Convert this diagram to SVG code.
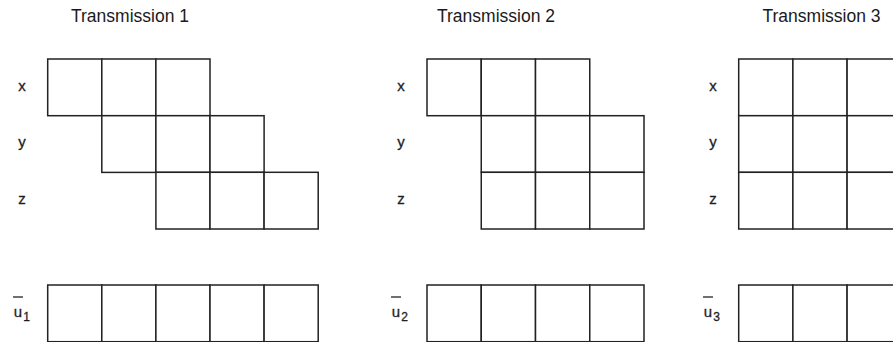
<svg xmlns="http://www.w3.org/2000/svg" width="893" height="342" viewBox="0 0 893 342">
  <style>
    .cell { fill: #ffffff; stroke: #222222; stroke-width: 1.5; }
    .title { font-family: "Liberation Sans", Arial, sans-serif; font-size: 17.5px; fill: #1a1a1a; text-anchor: middle; }
    .lbl { font-family: "Liberation Sans", Arial, sans-serif; font-size: 15px; fill: #1e1e1e; text-anchor: middle; stroke: #1e1e1e; stroke-width: 0.3; }
    .sub { font-size: 12px; }
    .bar { stroke: #222222; stroke-width: 1.3; }
  </style>
  <defs>
    <rect id="c1" class="cell" width="54.1" height="56.7"/>
    <rect id="c2" class="cell" width="54.25" height="56.7"/>
    <rect id="c3" class="cell" width="54.2" height="56.7"/>
  </defs>
  <rect width="893" height="342" fill="#ffffff"/>

  <!-- Transmission 1 -->
  <g id="transmission-1">
    <text class="title" x="130" y="22">Transmission 1</text>
    <g id="t1-labels">
      <text class="lbl" x="22" y="91">x</text>
      <text class="lbl" x="22" y="147">y</text>
      <text class="lbl" x="22" y="204">z</text>
      <line class="bar" x1="13" y1="297" x2="23" y2="297"/>
      <text class="lbl" x="18" y="317">u</text>
      <text class="lbl sub" x="26.5" y="321">1</text>
    </g>
    <g id="t1-x">
      <use href="#c1" x="47.7" y="59"/>
      <use href="#c1" x="101.8" y="59"/>
      <use href="#c1" x="155.9" y="59"/>
    </g>
    <g id="t1-y">
      <use href="#c1" x="101.8" y="115.7"/>
      <use href="#c1" x="155.9" y="115.7"/>
      <use href="#c1" x="210" y="115.7"/>
    </g>
    <g id="t1-z">
      <use href="#c1" x="155.9" y="172.3"/>
      <use href="#c1" x="210" y="172.3"/>
      <use href="#c1" x="264.1" y="172.3"/>
    </g>
    <g id="t1-u">
      <use href="#c1" x="47.7" y="285"/>
      <use href="#c1" x="101.8" y="285"/>
      <use href="#c1" x="155.9" y="285"/>
      <use href="#c1" x="210" y="285"/>
      <use href="#c1" x="264.1" y="285"/>
    </g>
  </g>

  <!-- Transmission 2 -->
  <g id="transmission-2">
    <text class="title" x="496" y="22">Transmission 2</text>
    <g id="t2-labels">
      <text class="lbl" x="401" y="91">x</text>
      <text class="lbl" x="401" y="147">y</text>
      <text class="lbl" x="401" y="204">z</text>
      <line class="bar" x1="391" y1="297" x2="401" y2="297"/>
      <text class="lbl" x="396" y="317">u</text>
      <text class="lbl sub" x="404.5" y="321">2</text>
    </g>
    <g id="t2-x">
      <use href="#c2" x="427" y="59"/>
      <use href="#c2" x="481.25" y="59"/>
      <use href="#c2" x="535.5" y="59"/>
    </g>
    <g id="t2-y">
      <use href="#c2" x="481.25" y="115.7"/>
      <use href="#c2" x="535.5" y="115.7"/>
      <use href="#c2" x="589.75" y="115.7"/>
    </g>
    <g id="t2-z">
      <use href="#c2" x="481.25" y="172.3"/>
      <use href="#c2" x="535.5" y="172.3"/>
      <use href="#c2" x="589.75" y="172.3"/>
    </g>
    <g id="t2-u">
      <use href="#c2" x="427" y="285"/>
      <use href="#c2" x="481.25" y="285"/>
      <use href="#c2" x="535.5" y="285"/>
      <use href="#c2" x="589.75" y="285"/>
    </g>
  </g>

  <!-- Transmission 3 -->
  <g id="transmission-3">
    <text class="title" x="821.5" y="22">Transmission 3</text>
    <g id="t3-labels">
      <text class="lbl" x="713" y="91">x</text>
      <text class="lbl" x="713" y="147">y</text>
      <text class="lbl" x="713" y="204">z</text>
      <line class="bar" x1="703" y1="297" x2="713" y2="297"/>
      <text class="lbl" x="708" y="317">u</text>
      <text class="lbl sub" x="716.5" y="321">3</text>
    </g>
    <g id="t3-x">
      <use href="#c3" x="738.7" y="59"/>
      <use href="#c3" x="792.9" y="59"/>
      <use href="#c3" x="847.1" y="59"/>
    </g>
    <g id="t3-y">
      <use href="#c3" x="738.7" y="115.7"/>
      <use href="#c3" x="792.9" y="115.7"/>
      <use href="#c3" x="847.1" y="115.7"/>
    </g>
    <g id="t3-z">
      <use href="#c3" x="738.7" y="172.3"/>
      <use href="#c3" x="792.9" y="172.3"/>
      <use href="#c3" x="847.1" y="172.3"/>
    </g>
    <g id="t3-u">
      <use href="#c3" x="738.7" y="285"/>
      <use href="#c3" x="792.9" y="285"/>
      <use href="#c3" x="847.1" y="285"/>
    </g>
  </g>
</svg>
